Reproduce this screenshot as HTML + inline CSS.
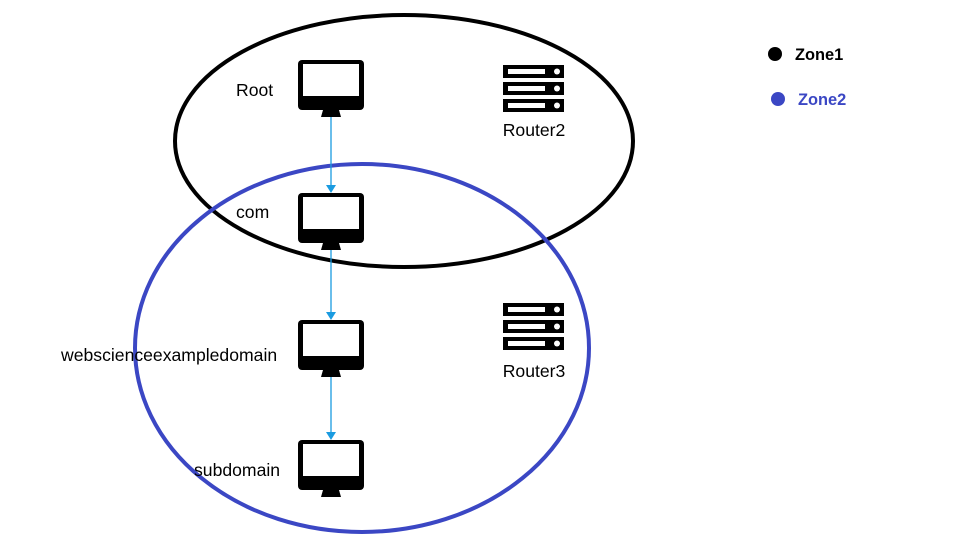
<!DOCTYPE html>
<html><head><meta charset="utf-8"><style>
body{margin:0;background:#fff}
svg{display:block;font-family:"Liberation Sans",Arial,sans-serif}
</style></head><body>
<svg width="969" height="556" viewBox="0 0 969 556">
<defs>
<g id="mon">
<rect x="0" y="0" width="66" height="50" rx="4" fill="#000"/>
<rect x="5" y="4" width="56" height="32" fill="#fff"/>
<path d="M25 50 L41 50 L43 57 L23 57 Z" fill="#000"/>
</g>
<g id="rt">
<rect x="0" y="0" width="61" height="13" fill="#000"/>
<rect x="0" y="17" width="61" height="13" fill="#000"/>
<rect x="0" y="34" width="61" height="13" fill="#000"/>
<rect x="5" y="4" width="37" height="5" fill="#fff"/>
<rect x="5" y="21" width="37" height="5" fill="#fff"/>
<rect x="5" y="38" width="37" height="5" fill="#fff"/>
<circle cx="54" cy="6.5" r="3" fill="#fff"/>
<circle cx="54" cy="23.5" r="3" fill="#fff"/>
<circle cx="54" cy="40.5" r="3" fill="#fff"/>
</g>
</defs>
<ellipse cx="404" cy="141" rx="229" ry="126" fill="none" stroke="#000" stroke-width="4"/>
<ellipse cx="362" cy="348" rx="227" ry="184" fill="none" stroke="#3b47c4" stroke-width="4"/>
<g stroke="#1a9be0" stroke-width="1.3" fill="#1a9be0">
<line x1="331" y1="117" x2="331" y2="186"/><path d="M326 185 L336 185 L331 193 Z" stroke="none"/>
<line x1="331" y1="250" x2="331" y2="313"/><path d="M326 312 L336 312 L331 320 Z" stroke="none"/>
<line x1="331" y1="377" x2="331" y2="433"/><path d="M326 432 L336 432 L331 440 Z" stroke="none"/>
</g>
<use href="#mon" x="298" y="60"/>
<use href="#mon" x="298" y="193"/>
<use href="#mon" x="298" y="320"/>
<use href="#mon" x="298" y="440"/>
<use href="#rt" x="503" y="65"/>
<use href="#rt" x="503" y="303"/>
<g font-size="17.6" fill="#000">
<text x="236" y="96">Root</text>
<text x="236" y="218">com</text>
<text x="61" y="361">webscienceexampledomain</text>
<text x="194" y="476">subdomain</text>
<text x="534" y="136" text-anchor="middle">Router2</text>
<text x="534" y="377" text-anchor="middle">Router3</text>
</g>
<circle cx="775" cy="54" r="7" fill="#000"/>
<circle cx="778" cy="99" r="7" fill="#3b47c4"/>
<text x="795" y="60" font-size="16.4" font-weight="bold" fill="#000">Zone1</text>
<text x="798" y="105" font-size="16.4" font-weight="bold" fill="#3b47c4">Zone2</text>
</svg>
</body></html>
